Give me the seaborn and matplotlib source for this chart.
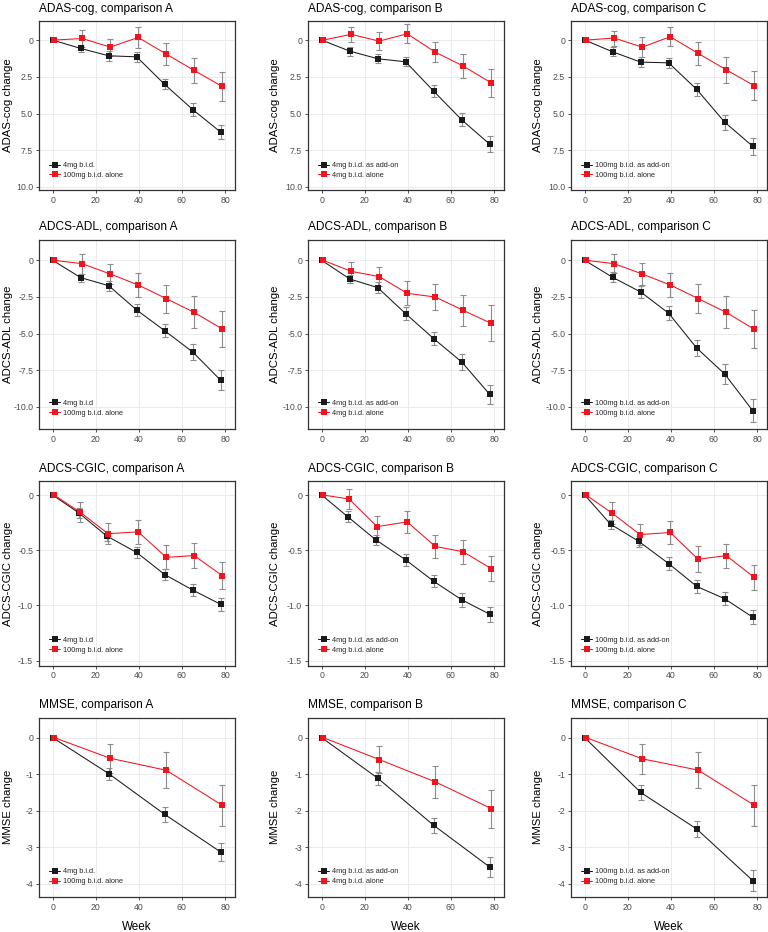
import matplotlib

matplotlib.use("Agg")

import matplotlib.pyplot as plt
import pandas as pd
import seaborn as sns

# semanas de visita e deslocamento do grupo "alone" (dodge)
WEEKS = [0, 13, 26, 39, 52, 65, 78]
CGIC_WEEKS = [0, 12, 25, 39, 52, 65, 78]
MMSE_WEEKS = [0, 26, 52, 78]
DODGE = 0.7

COMPARISONS = ["A", "B", "C"]
COMBO_LABELS = ["4mg b.i.d.", "4mg b.i.d. as add-on", "100mg b.i.d. as add-on"]
COMBO_LABELS_ADCS = ["4mg b.i.d", "4mg b.i.d. as add-on", "100mg b.i.d. as add-on"]
ALONE_LABELS = ["100mg b.i.d. alone", "4mg b.i.d. alone", "100mg b.i.d. alone"]

# ADAS-cog (eixo invertido)
ADAS_COMBO = [[0, 0.57, 1.07, 1.14, 3.02, 4.73, 6.27],
              [0, 0.75, 1.27, 1.48, 3.48, 5.43, 7.09],
              [0, 0.80, 1.50, 1.55, 3.36, 5.59, 7.23]]
ADAS_COMBO_SE = [[0, 0.23, 0.34, 0.33, 0.34, 0.42, 0.48],
                 [0, 0.31, 0.31, 0.31, 0.43, 0.45, 0.55],
                 [0, 0.30, 0.34, 0.34, 0.42, 0.50, 0.58]]
ADAS_ALONE = [[0, -0.11, 0.48, -0.18, 0.95, 2.07, 3.16],
              [0, -0.39, 0.07, -0.43, 0.82, 1.77, 2.91],
              [0, -0.14, 0.48, -0.23, 0.91, 2.02, 3.11]]
ADAS_ALONE_SE = [[0, 0.56, 0.58, 0.72, 0.76, 0.84, 0.97],
                 [0, 0.53, 0.59, 0.64, 0.70, 0.81, 0.95],
                 [0, 0.51, 0.68, 0.66, 0.77, 0.89, 0.98]]

# ADCS-ADL
ADL_COMBO = [[0, -1.18, -1.73, -3.39, -4.80, -6.25, -8.18],
             [0, -1.27, -1.86, -3.64, -5.34, -6.93, -9.14],
             [0, -1.16, -2.16, -3.61, -5.98, -7.75, -10.25]]
ADL_COMBO_SE = [[0, 0.28, 0.33, 0.43, 0.43, 0.53, 0.67],
                [0, 0.28, 0.36, 0.44, 0.44, 0.57, 0.67],
                [0, 0.35, 0.42, 0.48, 0.53, 0.67, 0.78]]
ADL_ALONE = [[0, -0.23, -0.93, -1.68, -2.61, -3.55, -4.68],
             [0, -0.75, -1.11, -2.25, -2.50, -3.41, -4.30],
             [0, -0.23, -0.93, -1.68, -2.61, -3.55, -4.70]]
ADL_ALONE_SE = [[0, 0.67, 0.68, 0.85, 0.95, 1.09, 1.25],
                [0, 0.64, 0.66, 0.82, 0.88, 1.06, 1.23],
                [0, 0.66, 0.73, 0.83, 0.99, 1.09, 1.28]]

# ADCS-CGIC
CGIC_COMBO = [[0, -0.160, -0.370, -0.520, -0.720, -0.860, -0.990],
              [0, -0.195, -0.404, -0.587, -0.781, -0.948, -1.079],
              [0, -0.264, -0.418, -0.621, -0.827, -0.939, -1.106]]
CGIC_COMBO_SE = [[0, 0.044, 0.047, 0.050, 0.053, 0.058, 0.058],
                 [0, 0.046, 0.046, 0.055, 0.055, 0.064, 0.068],
                 [0, 0.042, 0.048, 0.059, 0.059, 0.061, 0.064]]
CGIC_ALONE = [[0, -0.155, -0.350, -0.333, -0.564, -0.548, -0.730],
              [0, -0.036, -0.286, -0.243, -0.465, -0.514, -0.666],
              [0, -0.164, -0.358, -0.339, -0.582, -0.548, -0.745]]
CGIC_ALONE_SE = [[0, 0.092, 0.097, 0.109, 0.110, 0.115, 0.123],
                 [0, 0.088, 0.093, 0.102, 0.102, 0.106, 0.114],
                 [0, 0.100, 0.098, 0.101, 0.118, 0.109, 0.114]]

# MMSE
MMSE_COMBO = [[0, -0.985, -2.10, -3.13],
              [0, -1.11, -2.40, -3.54],
              [0, -1.50, -2.50, -3.91]]
MMSE_COMBO_SE = [[0, 0.164, 0.205, 0.255],
                 [0, 0.18, 0.21, 0.27],
                 [0, 0.20, 0.23, 0.29]]
MMSE_ALONE = [[0, -0.565, -0.893, -1.85],
              [0, -0.60, -1.21, -1.94],
              [0, -0.58, -0.89, -1.85]]
MMSE_ALONE_SE = [[0, 0.39, 0.49, 0.565],
                 [0, 0.36, 0.43, 0.52],
                 [0, 0.41, 0.49, 0.56]]

ADAS_TICKS = [0, 2.5, 5.0, 7.5, 10.0]
ADAS_TICKLABELS = ["0", "2.5", "5.0", "7.5", "10.0"]
ADL_TICKS = [0, -2.5, -5.0, -7.5, -10.0]
ADL_TICKLABELS = ["0", "-2.5", "-5.0", "-7.5", "-10.0"]
CGIC_TICKS = [0, -0.5, -1.0, -1.5]
CGIC_TICKLABELS = ["0", "-0.5", "-1.0", "-1.5"]
MMSE_TICKS = [0, -1, -2, -3, -4]
MMSE_TICKLABELS = ["0", "-1", "-2", "-3", "-4"]
X_TICKS = [0, 20, 40, 60, 80]

ROWS = [
    ("ADAS-cog", WEEKS, ADAS_COMBO, ADAS_COMBO_SE, ADAS_ALONE, ADAS_ALONE_SE,
     ADAS_TICKS, ADAS_TICKLABELS, (10.23, -1.32), COMBO_LABELS),
    ("ADCS-ADL", WEEKS, ADL_COMBO, ADL_COMBO_SE, ADL_ALONE, ADL_ALONE_SE,
     ADL_TICKS, ADL_TICKLABELS, (-11.5, 1.42), COMBO_LABELS_ADCS),
    ("ADCS-CGIC", CGIC_WEEKS, CGIC_COMBO, CGIC_COMBO_SE, CGIC_ALONE, CGIC_ALONE_SE,
     CGIC_TICKS, CGIC_TICKLABELS, (-1.545, 0.127), COMBO_LABELS_ADCS),
    ("MMSE", MMSE_WEEKS, MMSE_COMBO, MMSE_COMBO_SE, MMSE_ALONE, MMSE_ALONE_SE,
     MMSE_TICKS, MMSE_TICKLABELS, (-4.36, 0.55), COMBO_LABELS),
]

BLACK = "#1a1a1a"
RED = "#f0141e"
ERR = "#8c8c8c"

# layout em pixels (figura 768x932)
W, H = 768, 932
COL_LEFT = [38.7, 307.7, 570.7]
COL_YLABEL_RIGHT = [13.0, 280.0, 543.0]
PANEL_W = 196
ROW_TOP = [20.7, 239.5, 481.0, 717.5]
ROW_BOTTOM = [190.3, 429.0, 665.7, 897.0]

sns.set_theme(style="whitegrid")
plt.rcParams["font.family"] = ["Liberation Sans", "DejaVu Sans"]

fig = plt.figure(figsize=(W / 100, H / 100), dpi=100)

for r, (name, weeks, combo, combo_se, alone, alone_se,
        yticks, yticklabels, ylim, combo_labels) in enumerate(ROWS):
    for c, comp in enumerate(COMPARISONS):
        left, top, bottom = COL_LEFT[c], ROW_TOP[r], ROW_BOTTOM[r]
        ax = fig.add_axes([left / W, 1 - bottom / H, PANEL_W / W, (bottom - top) / H])

        lab1, lab2 = combo_labels[c], ALONE_LABELS[c]
        n = len(weeks)
        df = pd.DataFrame({
            "week": list(weeks) + [w + DODGE for w in weeks],
            "change": combo[c] + alone[c],
            "se": combo_se[c] + alone_se[c],
            "group": [lab1] * n + [lab2] * n,
        })

        sns.lineplot(data=df, x="week", y="change", hue="group", hue_order=[lab1, lab2],
                     palette=[BLACK, RED], marker="s", markersize=4.0, markeredgewidth=0,
                     linewidth=0.75, errorbar=None, legend=False, ax=ax, zorder=3)
        handles = list(ax.lines[:2])

        for lab in (lab1, lab2):
            sub = df[(df["group"] == lab) & (df["se"] > 0)]
            ax.errorbar(sub["week"], sub["change"], yerr=sub["se"], fmt="none",
                        ecolor=ERR, elinewidth=0.8, capsize=2.5, capthick=0.8, zorder=2)

        ax.set_xlim(-6.5, 84.5)
        ax.set_ylim(*ylim)
        ax.set_xticks(X_TICKS)
        ax.set_yticks(yticks)
        ax.set_yticklabels(yticklabels)
        ax.tick_params(length=2.5, width=0.6, color="#333333", labelcolor="#4d4d4d",
                       labelsize=6.3, pad=1.5, bottom=True, left=True)
        ax.grid(True, color="#ebebeb", linewidth=0.7)
        for sp in ax.spines.values():
            sp.set_color("#333333")
            sp.set_linewidth(0.9)

        ax.set_title(f"{name}, comparison {comp}", loc="left", fontsize=8.6, pad=6.5,
                     color="black")
        ax.set_ylabel(f"{name} change", fontsize=8.2, color="black")
        ax.yaxis.set_label_coords((COL_YLABEL_RIGHT[c] - left) / PANEL_W, 0.5)
        if r == len(ROWS) - 1:
            ax.set_xlabel("Week", fontsize=8.4, labelpad=7, color="black")
        else:
            ax.set_xlabel("")

        ax.legend(handles=handles, labels=[lab1, lab2], loc="lower left",
                  bbox_to_anchor=(0.04, 0.05), borderaxespad=0, frameon=False,
                  fontsize=5.3, handlelength=1.4, handletextpad=0.5, labelspacing=0.35)

fig.savefig("out.png", dpi=100)
plt.close(fig)
